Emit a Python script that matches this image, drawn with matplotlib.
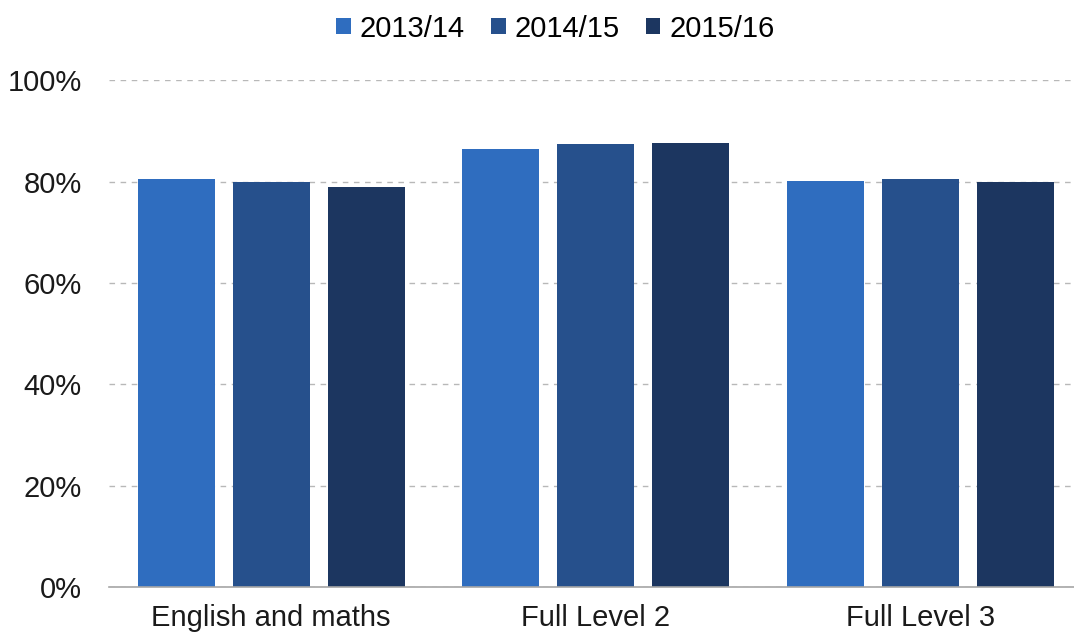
import matplotlib
matplotlib.use("Agg")
import matplotlib.pyplot as plt
import numpy as np
from matplotlib.ticker import FuncFormatter

categories = ["English and maths", "Full Level 2", "Full Level 3"]
series_names = ["2013/14", "2014/15", "2015/16"]
v2013 = [80.5, 86.5, 80.1]
v2014 = [79.9, 87.4, 80.5]
v2015 = [78.9, 87.7, 79.9]
yticks = [0, 20, 40, 60, 80, 100]
colors = ["#2F6DBF", "#26508C", "#1C3660"]

plt.rcParams['font.family'] = ['Liberation Sans', 'DejaVu Sans']

fig = plt.figure(figsize=(10.74, 6.34), dpi=100)
ax = fig.add_axes([109/1074, 1 - 587/634, 1 - 109/1074, (587 - 80.4)/634])

x = np.arange(len(categories))
pitch = 0.293
width = 0.237
for i, (vals, name, c) in enumerate(zip([v2013, v2014, v2015], series_names, colors)):
    ax.bar(x + (i - 1) * pitch, vals, width=width, color=c, label=name, zorder=3)

ax.set_xlim(-0.5, 2.474)
ax.set_ylim(0, 100)
ax.set_yticks(yticks)
ax.yaxis.set_major_formatter(FuncFormatter(lambda v, p: f"{int(v)}%"))
ax.set_xticks(x)
ax.set_xticklabels(categories)
ax.tick_params(axis='both', length=0, labelsize=21, colors='#1a1a1a')
ax.tick_params(axis='y', pad=19.5)
ax.tick_params(axis='x', pad=12)
ax.grid(axis='y', linestyle=(0, (4, 4)), color='#B8B8B8', linewidth=1, zorder=0)
for s in ['top', 'right', 'left']:
    ax.spines[s].set_visible(False)
ax.spines['bottom'].set_color('#A6A6A6')
ax.spines['bottom'].set_linewidth(1.2)
ax.spines['bottom'].set_zorder(4)

handles, labels = ax.get_legend_handles_labels()
fig.legend(handles, labels, loc='center', bbox_to_anchor=(0.517, 0.955), ncol=3, frameon=False,
           fontsize=21, handlelength=0.5, handleheight=0.5, handletextpad=0.3, columnspacing=0.9)

fig.savefig("out.png", dpi=100)
